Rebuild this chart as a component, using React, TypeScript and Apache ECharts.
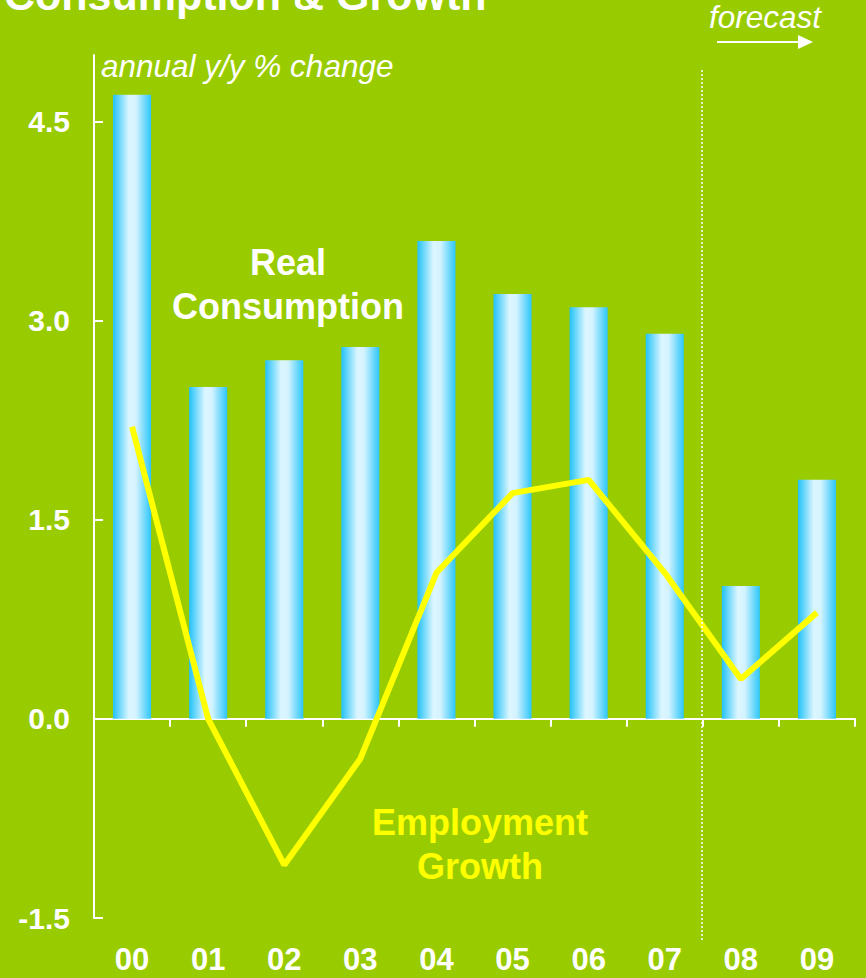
import React, { useEffect, useRef } from "react";
import * as echarts from "echarts";

const years = ["00", "01", "02", "03", "04", "05", "06", "07", "08", "09"];
const realConsumption = [4.7, 2.5, 2.7, 2.8, 3.6, 3.2, 3.1, 2.9, 1.0, 1.8];
const employmentGrowth = [2.2, 0.0, -1.1, -0.3, 1.1, 1.7, 1.8, 1.1, 0.3, 0.8];
const yTicks = [-1.5, 0, 1.5, 3.0, 4.5];

const FONT = "'Liberation Sans', Arial, Helvetica, sans-serif";

export default function App() {
  const ref = useRef<HTMLDivElement>(null);
  useEffect(() => {
    document.body.style.margin = "0";
    document.body.style.background = "#99CC00";
    const chart = echarts.init(ref.current!, null, { renderer: "svg" });
    const option: any = {
      animation: false,
      backgroundColor: "#99CC00",
      textStyle: { fontFamily: FONT },
      grid: { left: 94, right: 11, top: 55, bottom: 60, containLabel: false },
      xAxis: [
        {
          type: "category",
          data: years,
          position: "bottom",
          axisLine: { show: true, onZero: true, lineStyle: { color: "#ffffff", width: 2 } },
          axisTick: { show: true, length: 8, lineStyle: { color: "#ffffff", width: 2 } },
          axisLabel: { show: false },
          splitLine: { show: false },
        },
        {
          type: "category",
          data: years,
          position: "bottom",
          axisLine: { show: false, onZero: false },
          axisTick: { show: false },
          axisLabel: {
            show: true,
            color: "#ffffff",
            fontFamily: FONT,
            fontWeight: "bold",
            fontSize: 31,
            margin: 26,
          },
          splitLine: { show: false },
        },
      ],
      yAxis: {
        type: "value",
        min: -1.5,
        max: 5,
        interval: 1.5,
        axisLine: { show: true, lineStyle: { color: "#ffffff", width: 2 } },
        axisTick: {
          show: true,
          inside: true,
          length: 9,
          customValues: yTicks,
          lineStyle: { color: "#ffffff", width: 2 },
        },
        axisLabel: {
          color: "#ffffff",
          fontFamily: FONT,
          fontWeight: "bold",
          fontSize: 30,
          margin: 24,
          customValues: yTicks,
          formatter: (v: number) => v.toFixed(1),
        },
        splitLine: { show: false },
      },
      series: [
        {
          type: "bar",
          name: "Real Consumption",
          data: realConsumption,
          barWidth: "50%",
          itemStyle: {
            color: new echarts.graphic.LinearGradient(0, 0, 1, 0, [
              { offset: 0, color: "#22C2F8" },
              { offset: 0.42, color: "#DCF6FF" },
              { offset: 0.6, color: "#D4F3FF" },
              { offset: 1, color: "#2CC6FA" },
            ]),
          },
        },
        {
          type: "line",
          name: "Employment Growth",
          data: employmentGrowth,
          showSymbol: false,
          symbol: "none",
          lineStyle: { color: "#FFFF00", width: 6 },
          z: 5,
        },
      ],
    };
    chart.setOption(option);

    const x7 = chart.convertToPixel({ xAxisIndex: 0 }, "07") as number;
    const x8 = chart.convertToPixel({ xAxisIndex: 0 }, "08") as number;
    const divX = Math.round((x7 + x8) / 2) - 1;

    chart.setOption({
      graphic: [
        {
          type: "text",
          x: 4,
          y: -5,
          style: {
            text: "Consumption & Growth",
            fill: "#ffffff",
            font: `bold 43px ${FONT}`,
            textVerticalAlign: "middle",
          },
        },
        {
          type: "text",
          x: 101,
          y: 66,
          style: {
            text: "annual y/y % change",
            fill: "#ffffff",
            font: `italic 31.5px ${FONT}`,
            textVerticalAlign: "middle",
          },
        },
        {
          type: "text",
          x: 709,
          y: 17,
          style: {
            text: "forecast",
            fill: "#ffffff",
            font: `italic 31.5px ${FONT}`,
            textVerticalAlign: "middle",
          },
        },
        {
          type: "line",
          shape: { x1: 717, y1: 42, x2: 800, y2: 42 },
          style: { stroke: "#ffffff", lineWidth: 2 },
        },
        {
          type: "polygon",
          shape: { points: [[798, 35], [813, 42], [798, 49]] },
          style: { fill: "#ffffff" },
        },
        {
          type: "line",
          shape: { x1: divX, y1: 70, x2: divX, y2: 940 },
          style: { stroke: "#ffffff", lineWidth: 1.5, lineDash: [2, 2] },
          z: 10,
        },
        {
          type: "text",
          x: 288,
          y: 262,
          style: {
            text: "Real",
            fill: "#ffffff",
            font: `bold 36px ${FONT}`,
            textAlign: "center",
            textVerticalAlign: "middle",
          },
        },
        {
          type: "text",
          x: 288,
          y: 306,
          style: {
            text: "Consumption",
            fill: "#ffffff",
            font: `bold 36px ${FONT}`,
            textAlign: "center",
            textVerticalAlign: "middle",
          },
        },
        {
          type: "text",
          x: 480,
          y: 822,
          style: {
            text: "Employment",
            fill: "#FFFF00",
            font: `bold 36px ${FONT}`,
            textAlign: "center",
            textVerticalAlign: "middle",
          },
        },
        {
          type: "text",
          x: 480,
          y: 866,
          style: {
            text: "Growth",
            fill: "#FFFF00",
            font: `bold 36px ${FONT}`,
            textAlign: "center",
            textVerticalAlign: "middle",
          },
        },
      ],
    });

    return () => chart.dispose();
  }, []);
  return <div ref={ref} style={{ width: 866, height: 978 }} />;
}
